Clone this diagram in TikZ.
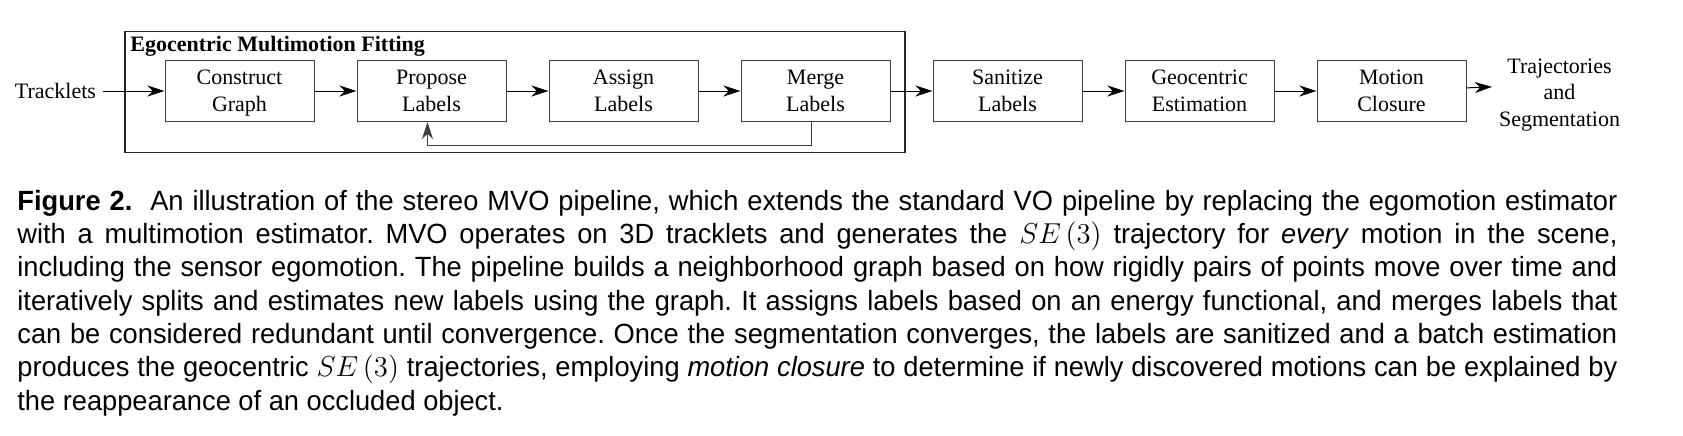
\documentclass[tikz,border=0pt]{standalone}
\usepackage{fontspec}
\setmainfont{Liberation Serif}
\newfontfamily\capfont[FakeStretch=0.98]{Liberation Sans}
\usetikzlibrary{arrows.meta}
\begin{document}
\begin{tikzpicture}[node distance={96pt}, main/.style = {draw=black!75, line width=0.5pt, minimum width=74.5pt, minimum height=30.5pt, text depth=0pt, align=center, font=\fontsize{11pt}{13.3pt}\selectfont}, txt/.style = {align=center, font=\fontsize{11pt}{13.3pt}\selectfont}, arr/.style = {-{Stealth[length=8.5pt,width=5.5pt,inset=2.6pt]}, line width=0.5pt}]
\useasboundingbox (0,0) rectangle (841.5pt,-217.5pt);
\draw[line width=0.7pt, draw=black!85] (62.5pt,-15.85pt) rectangle (452.5pt,-76.3pt);
\node[anchor=base west, inner sep=0, font=\fontsize{11pt}{13.3pt}\selectfont\bfseries] (t) at (65pt,-25.5pt) {Egocentric Multimotion Fitting};

\node[txt] (0) at (27.75pt,-45.5pt) {Tracklets};
\node[main] (1) at (119.75pt,-45.5pt) {Construct\\Graph};
\node[main] (2) [right of=1] {Propose\\Labels};
\node[main] (3) [right of=2] {Assign\\Labels};
\node[main] (4) [right of=3] {Merge\\Labels};
\node[main] (5) [right of=4] {Sanitize\\Labels};
\node[main] (6) [right of=5] {Geocentric\\Estimation};
\node[main] (7) [right of=6] {Motion\\Closure};
\node[txt, yshift=-2pt] (8) [right of=7, node distance={84pt}] {Trajectories\\and\\Segmentation};

\draw[arr] (0) -- (1);
\draw[arr] (1) -- (2);
\draw[arr] (2) -- (3);
\draw[arr] (3) -- (4);
\draw[arr] (4) -- (5);
\draw[arr] (5) -- (6);
\draw[arr] (6) -- (7);
\draw[arr] (7) -- (0.5pt-|8.west);
\draw[arr, draw=black!75] ([xshift=-2pt]4.south) -- ++(0,-11.5pt) -| ([xshift=-2pt]2.south);

\node[anchor=base west, inner sep=0, text width=800pt, align=justify, font=\capfont\fontsize{13.9pt}{16.67pt}\selectfont\frenchspacing] (c) at (8.5pt,-105pt) {\textbf{Figure 2.}\ \ An illustration of the stereo MVO pipeline, which extends the standard VO pipeline by replacing the egomotion estimator\linebreak
with a multimotion estimator. MVO operates on 3D tracklets and generates the $SE\left(3\right)$ trajectory for \textit{every} motion in the scene,\linebreak
including the sensor egomotion. The pipeline builds a neighborhood graph based on how rigidly pairs of points move over time and\linebreak
iteratively splits and estimates new labels using the graph. It assigns labels based on an energy functional, and merges labels that\linebreak
can be considered redundant until convergence. Once the segmentation converges, the labels are sanitized and a batch estimation\linebreak
produces the geocentric $SE\left(3\right)$ trajectories, employing \textit{motion closure} to determine if newly discovered motions can be explained by\linebreak
the reappearance of an occluded object.};
\end{tikzpicture}
\end{document}
